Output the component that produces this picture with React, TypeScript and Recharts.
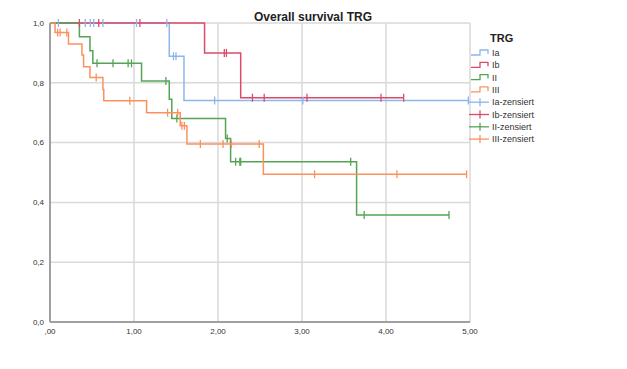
import React from 'react';
import { ComposedChart, Line, XAxis, YAxis, CartesianGrid } from 'recharts';

// survival steps: [time, survival after the event]
const iaEvents: [number, number][] = [[1.42, 0.889], [1.595, 0.741]];
const iaCensored = [0.1, 0.42, 0.48, 0.52, 0.63, 1.03, 1.39, 1.47, 1.5, 1.96, 3.01, 4.98];

const ibEvents: [number, number][] = [[1.84, 0.9], [2.27, 0.75]];
const ibCensored = [0.35, 0.58, 1.07, 2.075, 2.1, 2.41, 2.55, 3.06, 3.94, 4.21];

const iiEvents: [number, number][] = [
  [0.35, 0.954], [0.476, 0.907], [0.51, 0.865], [1.09, 0.806], [1.42, 0.745],
  [1.45, 0.681], [2.09, 0.614], [2.15, 0.536], [3.65, 0.358],
];
const iiCensored = [0.56, 0.75, 0.93, 0.97, 1.38, 1.51, 2.11, 2.21, 2.26, 2.27, 3.58, 3.74, 4.75];

const iiiEvents: [number, number][] = [
  [0.06, 0.968], [0.22, 0.93], [0.38, 0.893], [0.4, 0.854], [0.476, 0.818], [0.63, 0.778],
  [0.64, 0.74], [1.15, 0.7], [1.55, 0.656], [1.63, 0.595], [2.54, 0.494],
];
const iiiCensored = [0.09, 0.12, 0.2, 0.55, 0.95, 1.4, 1.52, 1.57, 1.6, 1.79, 2.06, 2.16, 2.49, 3.15, 4.13, 4.96];

const groups = ['Ia', 'Ib', 'II', 'III'];
const colors = ['#8cb6ec', '#dc4a6a', '#55a455', '#fb915f'];
const xTicks = [0, 1, 2, 3, 4, 5];
const yTicks = [0, 0.2, 0.4, 0.6, 0.8, 1];

type Pt = { t: number; s: number; c: boolean };

function build(events: [number, number][], censored: number[]): Pt[] {
  const survAt = (t: number) => {
    let s = 1;
    for (const [et, es] of events) if (et <= t) s = es;
    return s;
  };
  const pts: Pt[] = [{ t: 0, s: 1, c: false }];
  events.forEach(([t, s]) => pts.push({ t, s, c: false }));
  censored.forEach((t) => pts.push({ t, s: survAt(t), c: true }));
  return pts.sort((a, b) => a.t - b.t);
}

const series = [
  build(iaEvents, iaCensored),
  build(ibEvents, ibCensored),
  build(iiEvents, iiCensored),
  build(iiiEvents, iiiCensored),
];

const font = '"Liberation Sans", Arial, sans-serif';

const censorDot = (color: string) => (props: any) => {
  const { cx, cy, payload, index } = props;
  if (!payload || !payload.c) return <g key={index} />;
  return <line key={index} x1={cx} x2={cx} y1={cy - 4} y2={cy + 4} stroke={color} strokeWidth={1.3} />;
};

export default function App() {
  return (
    <div style={{ position: 'absolute', left: 0, top: 0, width: 627, height: 369, background: '#fff', fontFamily: font }}>
      <ComposedChart width={627} height={369} margin={{ top: 23, right: 157, bottom: 27, left: 0 }}>
        <CartesianGrid stroke="#d9d9d9" strokeWidth={1.5} horizontalValues={yTicks} verticalValues={xTicks} />
        <XAxis
          dataKey="t"
          type="number"
          domain={[0, 5]}
          ticks={xTicks}
          allowDataOverflow
          tickLine={false}
          tickSize={4}
          height={20}
          axisLine={{ stroke: '#a0a0a0', strokeWidth: 2 }}
          tick={{ fill: '#333', fontSize: 8, fontFamily: font }}
          tickFormatter={(v: number) => (v === 0 ? ',00' : v.toFixed(2).replace('.', ','))}
        />
        <YAxis
          type="number"
          domain={[0, 1]}
          ticks={yTicks}
          width={50}
          tickLine={false}
          tickSize={4}
          axisLine={{ stroke: '#a0a0a0', strokeWidth: 2 }}
          tick={{ fill: '#333', fontSize: 8, fontFamily: font }}
          tickFormatter={(v: number) => v.toFixed(1).replace('.', ',')}
        />
        {series.map((d, i) => (
          <Line
            key={groups[i]}
            data={d}
            dataKey="s"
            type="stepAfter"
            stroke={colors[i]}
            strokeWidth={1.5}
            dot={censorDot(colors[i])}
            activeDot={false}
            isAnimationActive={false}
          />
        ))}
        <text x={313} y={21} textAnchor="middle" fontFamily={font} fontSize={12} fontWeight="bold" fill="#222">
          Overall survival TRG
        </text>
      </ComposedChart>
      <svg width={160} height={140} style={{ position: 'absolute', left: 460, top: 25 }}>
        <text x={30} y={17} fontFamily={font} fontSize={11} fontWeight="bold" fill="#222">TRG</text>
        {groups.map((g, i) => {
          const y = 28 + i * 12.3;
          return (
            <g key={g}>
              <path d={`M11,${y + 2} H20 V${y - 3} H28 V${y + 1}`} fill="none" stroke={colors[i]} strokeWidth={1.3} />
              <text x={32} y={y + 3} fontFamily={font} fontSize={9} fill="#333">{g}</text>
            </g>
          );
        })}
        {groups.map((g, i) => {
          const y = 28 + (i + 4) * 12.3;
          return (
            <g key={g + 'z'}>
              <line x1={9} x2={29} y1={y} y2={y} stroke={colors[i]} strokeWidth={1.3} />
              <line x1={20} x2={20} y1={y - 4} y2={y + 4} stroke={colors[i]} strokeWidth={1.3} />
              <text x={32} y={y + 3} fontFamily={font} fontSize={9} fill="#333">{g}-zensiert</text>
            </g>
          );
        })}
      </svg>
    </div>
  );
}
